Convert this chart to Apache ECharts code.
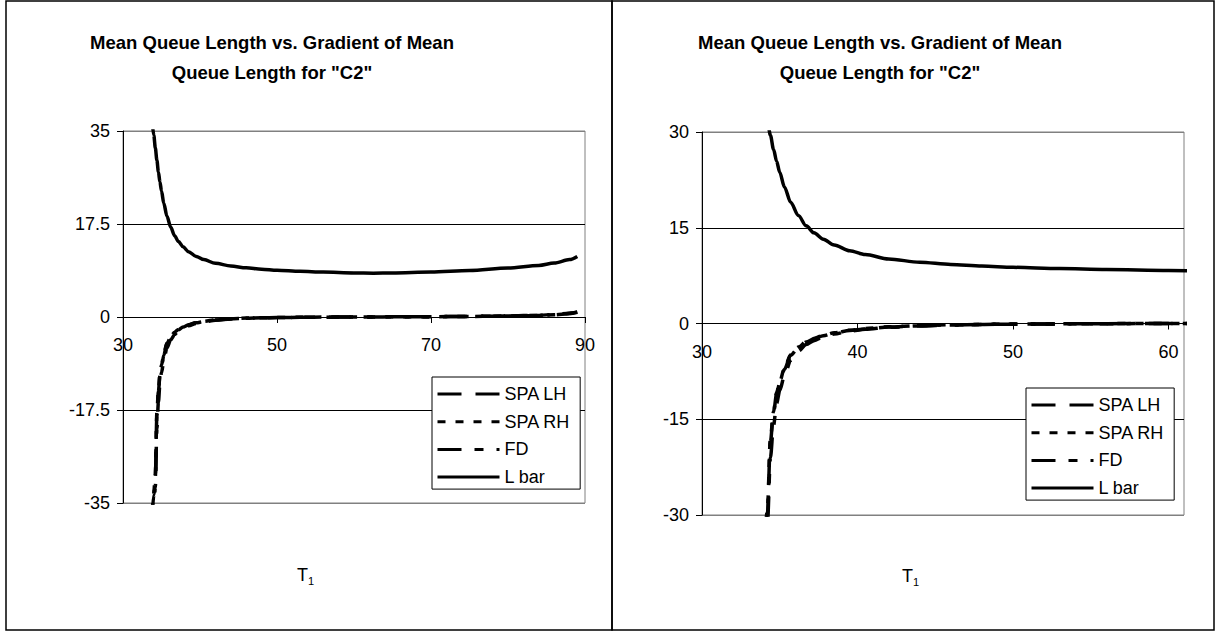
<!DOCTYPE html>
<html>
<head>
<meta charset="utf-8">
<script src="https://cdn.jsdelivr.net/npm/echarts@6/dist/echarts.min.js"></script>
<style>
html,body{margin:0;padding:0;background:#fff;}
#chart{width:1223px;height:632px;}
</style>
</head>
<body>
<div id="chart"></div>
<script>
// ---- data ----
const titleText = 'Mean Queue Length vs. Gradient of Mean\nQueue Length for "C2"';
const seriesNames = ['SPA LH', 'SPA RH', 'FD', 'L bar'];
const T1 = [33.8, 34.0, 34.2, 34.4, 34.6, 34.8, 35.0, 35.3, 35.7, 36.2, 36.7, 37.2, 37.8, 38.5, 39.5, 40.5, 42, 44, 46, 48, 50, 53, 56, 60, 62.5, 65, 70, 75, 80, 84, 86, 88, 89];
const lBar = [36.5, 34.2, 31.8, 29.5, 27.3, 25.4, 23.7, 21.4, 19.0, 16.9, 15.3, 14.2, 13.2, 12.3, 11.4, 10.8, 10.1, 9.6, 9.25, 9.0, 8.8, 8.6, 8.45, 8.3, 8.25, 8.28, 8.45, 8.75, 9.2, 9.7, 10.15, 10.8, 11.4];
const spaLH = [-37, -33.5, -30, -18.5, -14, -11, -9.3, -7.2, -5.0, -3.8, -2.9, -2.4, -1.9, -1.5, -1.1, -0.85, -0.55, -0.35, -0.22, -0.15, -0.1, -0.06, -0.03, 0, 0.01, 0.03, 0.06, 0.1, 0.18, 0.3, 0.42, 0.65, 0.9];
const spaRH = [-36.5, -33, -29.5, -18, -13.8, -10.8, -9.1, -7.0, -4.9, -3.7, -2.85, -2.35, -1.85, -1.45, -1.05, -0.8, -0.52, -0.33, -0.2, -0.14, -0.09, -0.05, -0.02, 0, 0.01, 0.03, 0.06, 0.1, 0.18, 0.3, 0.43, 0.66, 0.92];
const fd = [-40, -36, -32, -21, -16, -12.5, -10.5, -8.2, -5.8, -4.3, -3.3, -2.7, -2.1, -1.65, -1.2, -0.92, -0.6, -0.38, -0.24, -0.16, -0.1, -0.06, -0.03, 0, 0.01, 0.03, 0.06, 0.11, 0.2, 0.33, 0.47, 0.7, 0.95];
// tick labels of the two panels
const xTicksLeft = [30, 50, 70, 90];
const xTicksRight = [30, 40, 50, 60];

const FONT = 'Arial, "Liberation Sans", sans-serif';
const values = [spaLH, spaRH, fd, lBar];
const dashes = [[24, 14], [8, 10], [24, 13, 9, 13], 'solid'];

const chart = echarts.init(document.getElementById('chart'), null, {renderer: 'svg'});

function panelAxes(gi, xmin, xmax, xint, ymax, yint, ticks, off) {
  return {
    x: {
      type: 'value', gridIndex: gi, min: xmin, max: xmax, interval: xint, position: 'bottom', offset: off,
      axisLine: {show: true, onZero: false, lineStyle: {color: '#000', width: 1}},
      axisTick: {show: true, inside: false, length: 6, lineStyle: {color: '#000'}, customValues: ticks},
      axisLabel: {color: '#000', fontSize: 18, fontFamily: FONT, margin: 19, customValues: ticks},
      splitLine: {show: false}
    },
    y: {
      type: 'value', gridIndex: gi, min: -ymax, max: ymax, interval: yint,
      axisLine: {show: true, onZero: false, lineStyle: {color: '#000', width: 1}},
      axisTick: {show: true, inside: false, length: 6, lineStyle: {color: '#000'}},
      axisLabel: {color: '#000', fontSize: 18, fontFamily: FONT, margin: 13},
      splitLine: {show: true, lineStyle: {color: ['#808080', '#000', '#000', '#000', '#808080'], width: 1}}
    }
  };
}
const A = panelAxes(0, 30, 90, 20, 35, 17.5, xTicksLeft, -186);
const B = panelAxes(1, 30, 61, 10, 30, 15, xTicksRight, -191.5);

const series = [];
[0, 1].forEach(gi => {
  seriesNames.forEach((name, k) => {
    series.push({
      name: name, type: 'line', xAxisIndex: gi, yAxisIndex: gi,
      data: T1.map((t, i) => [t, values[k][i]]),
      symbol: 'none', smooth: 0.3, smoothMonotone: 'x', clip: true,
      itemStyle: {color: '#000'},
      lineStyle: {color: '#000', width: 3.5, type: dashes[k], cap: 'butt'},
      z: 5
    });
  });
});

function legend(left, top) {
  return {
    show: true, orient: 'vertical', left: left, top: top,
    data: seriesNames,
    itemWidth: 62, itemHeight: 14, itemGap: 7.7,
    padding: [7, 10, 2, 4],
    backgroundColor: '#fff', borderColor: '#000', borderWidth: 1, borderRadius: 0,
    textStyle: {color: '#000', fontSize: 18, fontFamily: FONT, lineHeight: 20},
    itemStyle: {color: 'rgba(0,0,0,0)', borderColor: 'rgba(0,0,0,0)', borderWidth: 0, opacity: 0},
    lineStyle: {width: 3, color: '#000'},
    selectedMode: false
  };
}

function titleGraphic(cx) {
  return {
    type: 'text', x: cx, y: 27, z: 10,
    style: {text: titleText, font: 'bold 18.5px ' + FONT, fill: '#000', textAlign: 'center', textVerticalAlign: 'top', lineHeight: 30}
  };
}
function tName(x, y) {
  return [
    {type: 'text', x: x, y: y, style: {text: 'T', font: '18px ' + FONT, fill: '#000', textVerticalAlign: 'middle'}},
    {type: 'text', x: x + 11, y: y + 6, style: {text: '1', font: '11px ' + FONT, fill: '#000', textVerticalAlign: 'middle'}}
  ];
}

const option = {
  animation: false,
  backgroundColor: '#fff',
  grid: [
    {left: 123, top: 131, width: 462, height: 372, show: true, borderColor: '#808080', borderWidth: 1, backgroundColor: 'transparent'},
    {left: 702, top: 132, width: 482, height: 383, show: true, borderColor: '#808080', borderWidth: 1, backgroundColor: 'transparent'}
  ],
  xAxis: [A.x, B.x],
  yAxis: [A.y, B.y],
  legend: [legend(432, 377), legend(1026, 388)],
  series: series,
  graphic: [
    {type: 'rect', shape: {x: 6, y: 1, width: 606, height: 629}, style: {fill: 'none', stroke: '#000', lineWidth: 1.5}, z: 20},
    {type: 'rect', shape: {x: 612, y: 1, width: 602, height: 629}, style: {fill: 'none', stroke: '#000', lineWidth: 1.5}, z: 20},
    titleGraphic(272),
    titleGraphic(880),
    ...tName(297, 575),
    ...tName(902, 576)
  ]
};
chart.setOption(option);
</script>
</body>
</html>
